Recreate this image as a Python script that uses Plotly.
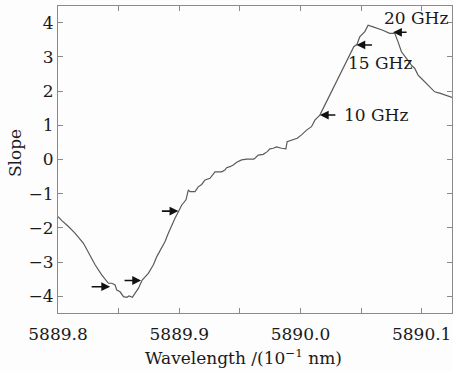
import plotly.graph_objects as go

wavelength = [
    5889.8000, 5889.8032, 5889.8086, 5889.8142, 5889.8210, 5889.8251, 5889.8306, 5889.8362,
    5889.8416, 5889.8444, 5889.8471, 5889.8485, 5889.8512, 5889.8540, 5889.8568, 5889.8586,
    5889.8614, 5889.8636, 5889.8663, 5889.8685, 5889.8696, 5889.8745, 5889.8787, 5889.8815,
    5889.8856, 5889.8883, 5889.8910, 5889.8938, 5889.8965, 5889.8993, 5889.9021, 5889.9056,
    5889.9075, 5889.9089, 5889.9130, 5889.9157, 5889.9185, 5889.9213, 5889.9254, 5889.9295,
    5889.9350, 5889.9377, 5889.9391, 5889.9418, 5889.9446, 5889.9474, 5889.9515, 5889.9556,
    5889.9616, 5889.9652, 5889.9693, 5889.9726, 5889.9748, 5889.9775, 5889.9803, 5889.9844,
    5889.9880, 5889.9890, 5889.9940, 5889.9973, 5890.0009, 5890.0050, 5890.0091, 5890.0119,
    5890.0160, 5890.0201, 5890.0242, 5890.0283, 5890.0325, 5890.0366, 5890.0407, 5890.0440,
    5890.0467, 5890.0489, 5890.0531, 5890.0558, 5890.0599, 5890.0640, 5890.0679, 5890.0736,
    5890.0778, 5890.0805, 5890.0833, 5890.0874, 5890.0915, 5890.0942, 5890.0970, 5890.0998,
    5890.1025, 5890.1066, 5890.1107, 5890.1148, 5890.1189, 5890.1231, 5890.1255,
]
slope = [
    -1.67, -1.79, -1.96, -2.16, -2.45, -2.74, -3.08, -3.38,
    -3.62, -3.62, -3.67, -3.82, -3.87, -4.01, -4.03, -3.99,
    -4.03, -3.91, -3.77, -3.60, -3.52, -3.33, -3.08, -2.84,
    -2.55, -2.40, -2.16, -1.92, -1.72, -1.53, -1.33, -1.18,
    -0.89, -0.94, -0.94, -0.80, -0.73, -0.60, -0.55, -0.36,
    -0.36, -0.31, -0.24, -0.21, -0.16, -0.08, -0.01, 0.01,
    0.01, 0.13, 0.15, 0.23, 0.31, 0.33, 0.37, 0.33,
    0.31, 0.52, 0.57, 0.62, 0.72, 0.86, 0.96, 1.15,
    1.30, 1.59, 1.89, 2.18, 2.47, 2.76, 3.06, 3.30,
    3.37, 3.59, 3.74, 3.93, 3.88, 3.84, 3.78, 3.69,
    3.69, 3.44, 3.15, 2.96, 2.76, 2.67, 2.47, 2.37,
    2.27, 2.13, 1.98, 1.94, 1.89, 1.84, 1.81,
]

x_tickvals = [5889.8, 5889.85, 5889.9, 5889.95, 5890.0, 5890.05, 5890.1]
x_ticktext = ["5889.8", "", "5889.9", "", "5890.0", "", "5890.1"]
y_tickvals = [-4, -3, -2, -1, 0, 1, 2, 3, 4]
y_ticktext = ["\u22124", "\u22123", "\u22122", "\u22121", "0", "1", "2", "3", "4"]

# arrow tips (x, y) and tail offsets (px)
arrow_x = [5889.843, 5889.8685, 5889.8993, 5890.016, 5890.0462, 5890.0764]
arrow_y = [-3.72, -3.54, -1.51, 1.30, 3.35, 3.72]
arrow_ax = [-20, -18, -18, 17, 17, 15]

label_text = ["10 GHz", "15 GHz", "20 GHz"]
label_x = [5890.0621, 5890.0658, 5890.0955]
label_y = [1.30, 2.81, 4.13]

FONT = "DejaVu Serif"
TXT = "#1a1a1a"
AX = "#8a8a8a"

fig = go.Figure()
fig.add_trace(go.Scatter(x=wavelength, y=slope, mode="lines",
                         line=dict(color="#5a5a5a", width=1.2), showlegend=False))

for x, y, ax in zip(arrow_x, arrow_y, arrow_ax):
    fig.add_annotation(x=x, y=y, ax=ax, ay=0, text="", showarrow=True,
                       arrowhead=2, arrowsize=1.1, arrowwidth=1.6, arrowcolor="#111111",
                       xref="x", yref="y")

for t, x, y in zip(label_text, label_x, label_y):
    fig.add_annotation(x=x, y=y, text=t, showarrow=False, xref="x", yref="y",
                       xanchor="center", yanchor="middle",
                       font=dict(family=FONT, size=17, color=TXT))

fig.add_annotation(x=0.472, y=-0.143, xref="paper", yref="paper",
                   xanchor="center", yanchor="middle",
                   text="Wavelength /(10<sup>\u22121</sup> nm)", showarrow=False,
                   font=dict(family=FONT, size=17, color=TXT))
fig.add_annotation(x=-0.109, y=0.521, xref="paper", yref="paper", textangle=-90,
                   xanchor="center", yanchor="middle",
                   text="Slope", showarrow=False,
                   font=dict(family=FONT, size=17, color=TXT))

fig.update_layout(
    width=453, height=372,
    margin=dict(l=58, r=1, t=6, b=59, autoexpand=False),
    paper_bgcolor="#fdfdfd", plot_bgcolor="#fdfdfd",
    font=dict(family=FONT, size=17, color=TXT),
)
fig.update_xaxes(range=[5889.8, 5890.125], tickvals=x_tickvals, ticktext=x_ticktext,
                 ticks="inside", ticklen=5, tickcolor=AX, showline=True, linecolor=AX,
                 linewidth=1, mirror="ticks", showgrid=False, zeroline=False,
                 automargin=False, ticklabelstandoff=6)
fig.update_yaxes(range=[-4.49, 4.49], tickvals=y_tickvals, ticktext=y_ticktext,
                 ticks="inside", ticklen=5, tickcolor=AX, showline=True, linecolor=AX,
                 linewidth=1, mirror="ticks", showgrid=False, zeroline=False,
                 automargin=False)

fig.write_html("out.html", config={"displayModeBar": False},
               post_script="document.body.style.margin='0';document.body.style.overflow='hidden';")
